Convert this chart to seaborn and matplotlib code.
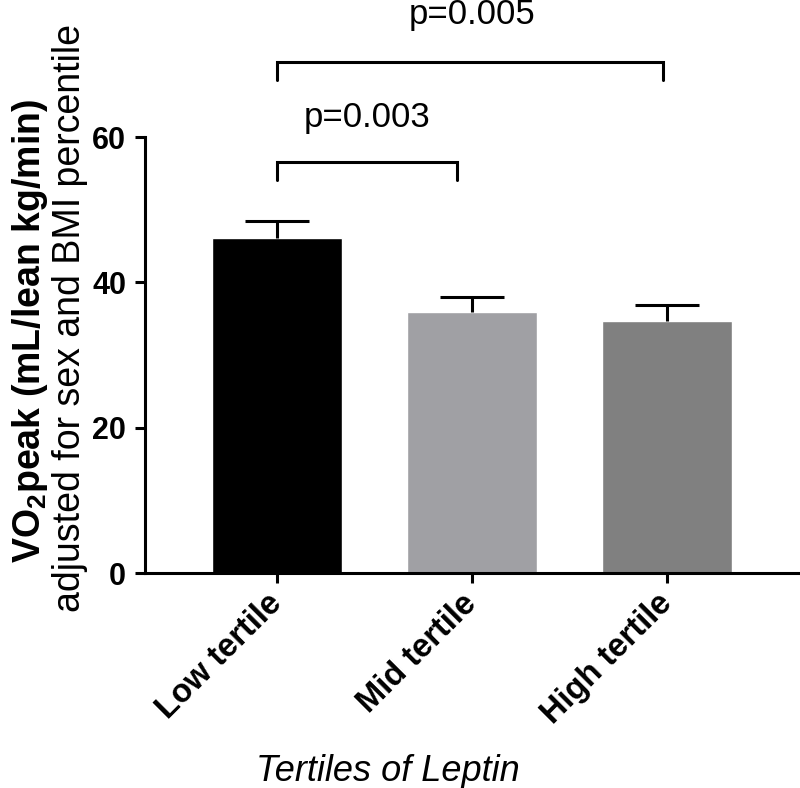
import pandas as pd
import seaborn as sns
import matplotlib.pyplot as plt

# values
tertiles = ["Low tertile", "Mid tertile", "High tertile"]
vo2_mean = [46.1, 35.9, 34.7]
vo2_sem = [2.3, 2.1, 2.2]
bar_colors = ["#000000", "#A0A0A4", "#808080"]

# comparisons: (from, to, label)
comp_pairs = [(0, 0.92), (0, 1.98)]
comp_labels = ["p=0.003", "p=0.005"]
comp_heights = [56.6, 70.3]

sns.set_style("ticks")
plt.rcParams["font.family"] = ["Liberation Sans", "DejaVu Sans"]
plt.rcParams["mathtext.fontset"] = "custom"
plt.rcParams["mathtext.rm"] = "Liberation Sans"
plt.rcParams["mathtext.bf"] = "Liberation Sans:bold"
for k in ["text.color", "axes.labelcolor", "xtick.color", "ytick.color", "axes.edgecolor"]:
    plt.rcParams[k] = "black"

df = pd.DataFrame({"tertile": tertiles, "vo2": vo2_mean, "sem": vo2_sem})

fig = plt.figure(figsize=(8, 7.88), dpi=100)
ax = fig.add_axes([0.18125, 0.2728, 0.81875, 0.5533])

sns.barplot(data=df, x="tertile", y="vo2", hue="tertile", palette=bar_colors,
            width=0.667, legend=False, ax=ax, saturation=1, errorbar=None)
eb = ax.errorbar(range(len(tertiles)), df["vo2"], yerr=[[0] * len(tertiles), df["sem"]],
                 fmt="none", ecolor="black", elinewidth=2.2, capsize=23, capthick=2.2, zorder=1)
eb[1][0].set_visible(False)  # only the upper half of the error bar

ax.set_ylim(0, 60)
ax.set_xlim(-0.677, 2.68)
ax.set_yticks([0, 20, 40, 60])
ax.set_xticks(range(len(tertiles)))
ax.set_xticklabels(tertiles, rotation=45, ha="right", va="center", rotation_mode="anchor",
                   fontsize=23.5, fontweight="bold")
for lab in ax.get_yticklabels():
    lab.set_fontsize(22)
    lab.set_fontweight("bold")
ax.tick_params(axis="both", length=7.5, width=2.2, color="black", pad=6)
ax.tick_params(axis="x", pad=11)
for s in ["left", "bottom"]:
    ax.spines[s].set_linewidth(2.2)
sns.despine(ax=ax)

ax.set_ylabel("")
ax.set_xlabel("Tertiles of Leptin", fontsize=26, style="italic")
ax.xaxis.set_label_coords(0.371, -0.415)

# significance brackets
for (a, b), lab, h in zip(comp_pairs, comp_labels, comp_heights):
    ax.plot([a, a, b, b], [h - 2.5, h, h, h - 2.5], color="black", lw=2.2,
            clip_on=False, solid_joinstyle="miter")
ax.text(0.46, 62.7, comp_labels[0], ha="center", va="center", fontsize=25, clip_on=False)
ax.text(1.0, 76.8, comp_labels[1], ha="center", va="center", fontsize=25, clip_on=False)

fig.text(30 / 800, 1 - 331 / 788, r"VO$_\mathbf{2}$peak (mL/lean kg/min)", rotation=90,
         ha="center", va="center", fontsize=27, fontweight="bold")
fig.text(70 / 800, 1 - 318 / 788, "adjusted for sex and BMI percentile", rotation=90,
         ha="center", va="center", fontsize=27)

fig.savefig("out.png", dpi=100)
